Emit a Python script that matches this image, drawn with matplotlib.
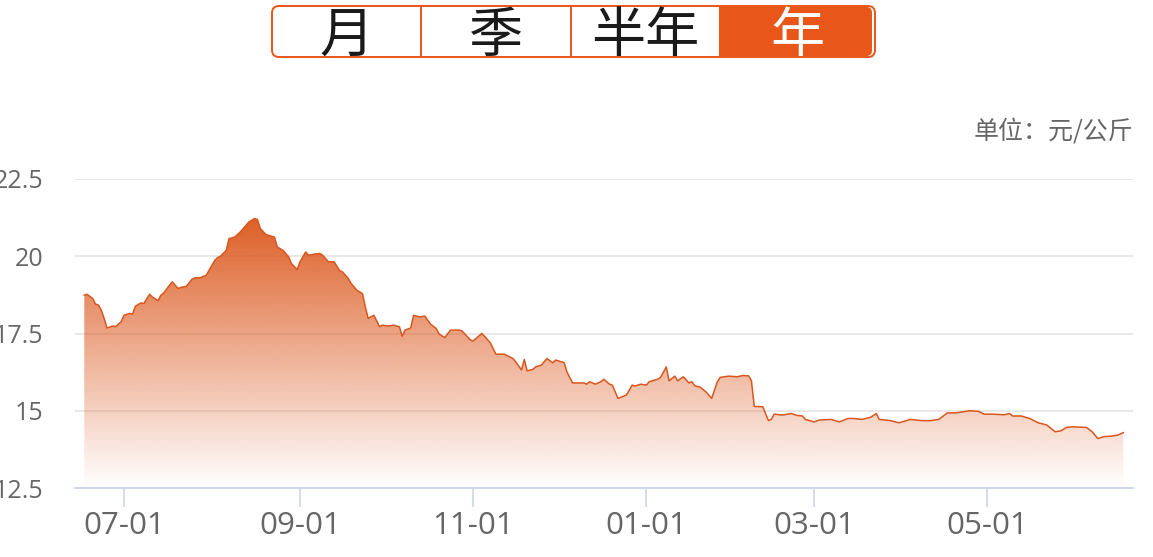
import matplotlib
matplotlib.use("Agg")
import matplotlib.pyplot as plt
import matplotlib.dates as mdates
import matplotlib.colors as mcolors
import numpy as np
import pandas as pd
from matplotlib.patches import FancyBboxPatch, Rectangle
from matplotlib.lines import Line2D

# ---------------- data ----------------
dates = [
    "2024-06-17", "2024-06-18", "2024-06-20", "2024-06-21", "2024-06-22", "2024-06-23",
    "2024-06-24", "2024-06-25", "2024-06-27", "2024-06-28", "2024-06-30",
    "2024-07-01", "2024-07-03", "2024-07-04", "2024-07-05", "2024-07-07", "2024-07-08",
    "2024-07-10", "2024-07-11", "2024-07-13", "2024-07-14", "2024-07-15", "2024-07-17",
    "2024-07-18", "2024-07-20", "2024-07-21", "2024-07-23", "2024-07-25", "2024-07-26",
    "2024-07-28", "2024-07-30", "2024-07-31",
    "2024-08-02", "2024-08-03", "2024-08-04", "2024-08-06", "2024-08-07", "2024-08-09",
    "2024-08-11", "2024-08-13", "2024-08-14", "2024-08-16", "2024-08-17", "2024-08-18",
    "2024-08-20", "2024-08-23", "2024-08-24", "2024-08-26", "2024-08-28", "2024-08-29",
    "2024-08-31",
    "2024-09-01", "2024-09-03", "2024-09-04", "2024-09-06", "2024-09-08", "2024-09-09",
    "2024-09-11", "2024-09-13", "2024-09-15", "2024-09-16", "2024-09-18", "2024-09-19",
    "2024-09-21", "2024-09-23", "2024-09-24", "2024-09-25", "2024-09-27", "2024-09-28",
    "2024-09-29", "2024-09-30",
    "2024-10-02", "2024-10-04", "2024-10-05", "2024-10-06", "2024-10-07", "2024-10-08",
    "2024-10-10", "2024-10-11", "2024-10-13", "2024-10-15", "2024-10-17", "2024-10-19",
    "2024-10-20", "2024-10-22", "2024-10-24", "2024-10-27", "2024-10-28", "2024-10-31",
    "2024-11-01", "2024-11-04", "2024-11-05", "2024-11-07", "2024-11-09", "2024-11-12",
    "2024-11-15", "2024-11-16", "2024-11-18", "2024-11-19", "2024-11-20", "2024-11-22",
    "2024-11-23", "2024-11-25", "2024-11-27", "2024-11-29", "2024-11-30",
    "2024-12-03", "2024-12-04", "2024-12-06", "2024-12-10", "2024-12-11", "2024-12-12",
    "2024-12-14", "2024-12-16", "2024-12-17", "2024-12-19", "2024-12-20", "2024-12-22",
    "2024-12-25", "2024-12-27", "2024-12-28", "2024-12-30",
    "2025-01-01", "2025-01-02", "2025-01-05", "2025-01-06", "2025-01-08", "2025-01-09",
    "2025-01-11", "2025-01-12", "2025-01-14", "2025-01-16", "2025-01-17", "2025-01-18",
    "2025-01-20", "2025-01-22", "2025-01-24", "2025-01-26", "2025-01-27", "2025-01-30",
    "2025-02-02", "2025-02-04", "2025-02-06", "2025-02-07", "2025-02-08", "2025-02-11",
    "2025-02-13", "2025-02-14", "2025-02-15", "2025-02-18", "2025-02-21", "2025-02-23",
    "2025-02-25", "2025-02-26",
    "2025-03-01", "2025-03-03", "2025-03-07", "2025-03-10", "2025-03-13", "2025-03-15",
    "2025-03-18", "2025-03-21", "2025-03-23", "2025-03-24", "2025-03-28", "2025-03-31",
    "2025-04-04", "2025-04-08", "2025-04-11", "2025-04-14", "2025-04-17", "2025-04-20",
    "2025-04-25", "2025-04-28", "2025-04-30",
    "2025-05-03", "2025-05-07", "2025-05-09", "2025-05-10", "2025-05-13", "2025-05-16",
    "2025-05-19", "2025-05-22", "2025-05-25", "2025-05-27", "2025-05-29", "2025-05-31",
    "2025-06-05", "2025-06-07", "2025-06-09", "2025-06-11", "2025-06-14", "2025-06-16",
    "2025-06-18",
]

prices = [
    18.74, 18.77, 18.63, 18.45, 18.42, 18.25,
    17.99, 17.68, 17.74, 17.72, 17.88,
    18.09, 18.15, 18.13, 18.38, 18.49, 18.47,
    18.77, 18.68, 18.56, 18.74, 18.81, 19.06,
    19.17, 18.96, 18.99, 19.03, 19.26, 19.30,
    19.31, 19.39, 19.55,
    19.87, 19.96, 20.00, 20.19, 20.57, 20.62,
    20.79, 21.00, 21.11, 21.22, 21.19, 20.90,
    20.70, 20.62, 20.30, 20.19, 19.98, 19.76,
    19.57,
    19.82, 20.14, 20.03, 20.07, 20.09, 20.03,
    19.82, 19.82, 19.53, 19.49, 19.28, 19.12,
    18.90, 18.79, 18.36, 17.99, 18.09, 17.91,
    17.72, 17.77,
    17.74, 17.77, 17.74, 17.72, 17.41, 17.61,
    17.68, 18.09, 18.04, 18.06, 17.80, 17.66,
    17.48, 17.37, 17.61, 17.61, 17.59, 17.29,
    17.26, 17.50, 17.41, 17.20, 16.83, 16.83,
    16.69, 16.58, 16.32, 16.66, 16.29, 16.34,
    16.42, 16.48, 16.69, 16.55, 16.64,
    16.56, 16.26, 15.90, 15.90, 15.86, 15.94,
    15.86, 15.94, 16.02, 15.86, 15.83, 15.40,
    15.51, 15.83, 15.80, 15.86,
    15.83, 15.94, 16.02, 16.08, 16.42, 15.97,
    16.12, 15.97, 16.10, 15.90, 15.94, 15.81,
    15.76, 15.61, 15.40, 15.94, 16.08, 16.12,
    16.10, 16.14, 16.13, 15.97, 15.14, 15.13,
    14.68, 14.72, 14.89, 14.86, 14.91, 14.85,
    14.83, 14.72,
    14.64, 14.70, 14.72, 14.64, 14.75, 14.75,
    14.72, 14.79, 14.91, 14.72, 14.68, 14.61,
    14.72, 14.68, 14.68, 14.72, 14.93, 14.93,
    15.00, 14.98, 14.89,
    14.89, 14.87, 14.91, 14.83, 14.83, 14.75,
    14.61, 14.54, 14.32, 14.35, 14.46, 14.48,
    14.46, 14.32, 14.10, 14.16, 14.18, 14.21,
    14.29,
]

tab_labels = ["月", "季", "半年", "年"]
active_tab = "年"
unit_label = "单位：元/公斤"
y_ticks = [12.5, 15, 17.5, 20, 22.5]
x_tick_dates = ["2024-07-01", "2024-09-01", "2024-11-01",
                "2025-01-01", "2025-03-01", "2025-05-01"]

# ---------------- styling ----------------
W, H = 1153, 557
ORANGE = "#E8561A"
LINE = "#D9561E"
FILL = "#DC5A20"
GRID = "#E4E4E4"
AXIS = "#CCD6EB"
LABEL = "#666666"
NUM_FONT = ["Open Sans", "Noto Sans CJK SC", "DejaVu Sans"]
CJK_FONT = ["Noto Sans CJK SC", "DejaVu Sans"]

fig = plt.figure(figsize=(W / 100, H / 100), dpi=100)
fig.patch.set_facecolor("white")

ax = fig.add_axes([75 / W, 1 - 488 / H, (1133 - 75) / W, (488 - 179) / H])

x = mdates.date2num(pd.to_datetime(dates))
y = np.array(prices, dtype=float)
ymin = y_ticks[0]

ax.plot(x, y, color=LINE, lw=1.1, zorder=4, solid_joinstyle="round")
poly = ax.fill_between(x, y, ymin, facecolor="none", edgecolor="none")

grad = np.zeros((256, 1, 4))
grad[..., :3] = mcolors.to_rgb(FILL)
grad[:, 0, 3] = np.linspace(0.97, 0.0, 256)
im = ax.imshow(grad, extent=[x.min(), x.max(), ymin, y.max()], origin="upper",
               aspect="auto", zorder=2, interpolation="bilinear")
im.set_clip_path(poly.get_paths()[0], transform=ax.transData)

x0 = mdates.date2num(pd.Timestamp("2024-07-01"))
ax.set_xlim(x0 - 17.26, x0 + 355.4)
ax.set_ylim(y_ticks[0], y_ticks[-1])

# y axis
ax.set_yticks(y_ticks)
ax.set_yticklabels([("%g" % v) for v in y_ticks])
ax.tick_params(axis="y", length=0, pad=23, labelcolor=LABEL, labelsize=18)
for lab in ax.get_yticklabels():
    lab.set_fontfamily(NUM_FONT)
ax.yaxis.grid(True, color=GRID, lw=1.2, zorder=1)
ax.set_axisbelow(True)

# x axis
xt = mdates.date2num(pd.to_datetime(x_tick_dates))
ax.set_xticks(xt)
ax.set_xticklabels([pd.Timestamp(d).strftime("%m-%d") for d in x_tick_dates])
ax.tick_params(axis="x", length=13.5, width=1.2, color=AXIS, pad=3,
               labelcolor=LABEL, labelsize=22.5)
for lab in ax.get_xticklabels():
    lab.set_fontfamily(NUM_FONT)

for s in ["top", "right", "left"]:
    ax.spines[s].set_visible(False)
ax.spines["bottom"].set_color(AXIS)
ax.spines["bottom"].set_linewidth(1.3)
ax.spines["bottom"].set_zorder(5)

# unit label
fig.text(1133 / W, 1 - 132 / H, unit_label, ha="right", va="center",
         fontsize=18, color=LABEL, family=CJK_FONT)

# ---------------- tabs ----------------
tr = fig.dpi_scale_trans
def P(px, py):
    return (px / 100, (H - py) / 100)

left, right, top, bot = 272, 875, 6, 57
cells = [272, 421, 571, 720, 875]
r = 0.07

outer = FancyBboxPatch(P(left, bot), (right - left) / 100, (bot - top) / 100,
                       boxstyle="round,pad=0,rounding_size=%f" % r,
                       transform=tr, facecolor="white", edgecolor=ORANGE, lw=1.4,
                       zorder=1)
fig.patches.append(outer)

ai = tab_labels.index(active_tab)
ax0, ax1 = cells[ai], cells[ai + 1]
act = FancyBboxPatch(P(ax0, bot - 1), (ax1 - 3 - ax0) / 100, (bot - top - 2) / 100,
                     boxstyle="round,pad=0,rounding_size=%f" % (r * 0.8),
                     transform=tr, facecolor=ORANGE, edgecolor="none", zorder=2)
fig.patches.append(act)
sq = Rectangle(P(ax0, bot - 1), 0.2, (bot - top - 2) / 100, transform=tr,
               facecolor=ORANGE, edgecolor="none", zorder=2)
fig.patches.append(sq)

for cx in cells[1:-1]:
    fig.lines.append(Line2D([cx / 100, cx / 100], [(H - top) / 100, (H - bot) / 100],
                            transform=tr, color=ORANGE, lw=1.4, zorder=3))

for i, lab in enumerate(tab_labels):
    cxm = (cells[i] + cells[i + 1]) / 2
    col = "white" if lab == active_tab else "#1A1A1A"
    fig.text(cxm / W, 1 - 37 / H, lab, ha="center", va="center", fontsize=39,
             color=col, family=CJK_FONT, zorder=4)

fig.savefig("out.png", dpi=100)
